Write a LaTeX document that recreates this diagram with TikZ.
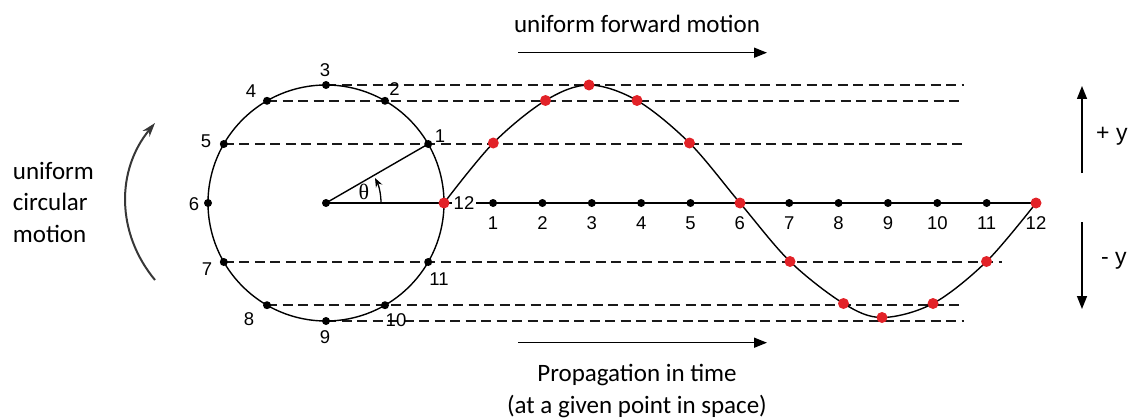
\documentclass[tikz,border=0pt]{standalone}
\usepackage{fontspec}
\setmainfont{Carlito}
\newfontfamily\numfont{Liberation Sans}
\newfontfamily\grfont{Liberation Serif}
\usetikzlibrary{arrows.meta}
\definecolor{dotred}{RGB}{226,34,40}
\definecolor{arrgray}{RGB}{55,55,55}
\begin{document}
\begin{tikzpicture}[x=1pt,y=-1pt,
  curve/.style={line width=1.4pt},
  guide/.style={line width=1.4pt, dash pattern=on 10pt off 5.5pt, black!90},
  bdot/.style={circle, fill=black, inner sep=0pt, minimum size=8pt},
  rdot/.style={circle, fill=dotred, inner sep=0pt, minimum size=11pt},
  num/.style={font=\numfont\fontsize{18.5}{18.5}\selectfont, inner sep=0pt},
  caption/.style={font=\fontsize{25}{31.5}\selectfont, inner sep=0pt},
  sign/.style={font=\numfont\fontsize{23}{23}\selectfont, inner sep=0pt, anchor=west},
  motion/.style={line width=1.5pt, -{Triangle[length=13pt,width=10pt]}},
]
\useasboundingbox (0,0) rectangle (1128,420);

% circle geometry
\coordinate (O) at (326,203);
\foreach \k in {1,...,12}
  \coordinate (c\k) at ({326+118*cos(30*\k)},{203-118*sin(30*\k)});
\foreach \k in {1,...,12}
  \coordinate (a\k) at ({443.7+49.36*\k},203);

% wave points
\coordinate (w1) at (493.3,143);
\coordinate (w2) at (545.5,100.5);
\coordinate (w3) at (589,85);
\coordinate (w4) at (637,100.5);
\coordinate (w5) at (689.5,143);
\coordinate (w6) at (740,203);
\coordinate (w7) at (790,261.5);
\coordinate (w8) at (843.5,303.5);
\coordinate (w9) at (882,317.5);
\coordinate (w10) at (933,303.5);
\coordinate (w11) at (986.5,261.5);
\coordinate (w12) at (1036,203);

% right ends of guide lines
\coordinate (R) at (964,0);
\coordinate (R1) at (962,0);
\coordinate (R7) at (1002,0);

% dashed guides
\draw[guide] (c3) -- (c3 -| R);
\draw[guide] (c4) -- (c4 -| R);
\draw[guide] (c5) -- (c5 -| R1);
\draw[guide] (c7) -- (c7 -| R7);
\draw[guide] (c8) -- (c8 -| R);
\draw[guide] (c9) -- (c9 -| R);

% circle, radii, axis
\draw[curve] (O) circle[radius=118];
\draw[curve] (O) -- (c1);
\draw[curve] (O) -- (c12);
\draw[curve] (c12) -- (a12);
\draw[curve] plot[smooth, tension=0.55] coordinates
  {(c12) (w1) (w2) (w3) (w4) (w5) (w6) (w7) (w8) (w9) (w10) (w11) (w12)};

% angle
\draw[line width=1.3pt, -{Stealth[length=9pt,width=7pt]}]
  ([xshift=55pt]O) arc[start angle=0, end angle=-27, radius=55];
\node[font=\grfont\fontsize{22}{22}\selectfont, inner sep=0pt] (theta) at (364,192) {θ};

% dots
\node[bdot] at (O) {};
\foreach \k in {1,...,11} \node[bdot] at (c\k) {};
\foreach \k in {1,2,3,4,5,7,8,9,10,11} \node[bdot] at (a\k) {};
\node[rdot] at (c12) {};
\foreach \k in {1,...,12} \node[rdot] at (w\k) {};

% circle labels
\node[num] (l1) at (440,136) {1};
\node[num] (l2) at (394.5,89) {2};
\node[num] (l3) at (325,70) {3};
\node[num] (l4) at (251,91) {4};
\node[num] (l5) at (206,141) {5};
\node[num] (l6) at (194,204) {6};
\node[num] (l7) at (207,269) {7};
\node[num] (l8) at (249,319) {8};
\node[num] (l9) at (325,337.5) {9};
\node[num] (l10) at (396,320) {10};
\node[num] (l11) at (439,279) {11};
\node[num, fill=white, inner sep=2pt] (l12) at (464,203) {12};

% axis labels
\foreach \k in {1,...,12}
  \node[num] at ([yshift=-20pt]a\k) {\k};

% left curved arrow
\coordinate (la) at (155,280);
\coordinate (lb) at (155,123);
\draw[line width=2pt, arrgray, -{Stealth[length=14pt,width=9pt]}]
  (la) .. controls (116,233) and (116,170) .. (lb);
\node[caption, align=left, anchor=west] (ucm) at (12.7,202)
  {uniform\\circular\\motion};

% forward motion arrows
\coordinate (t1) at (518,52.7);
\coordinate (t2) at (767,52.7);
\draw[motion] (t1) -- (t2);
\node[caption, anchor=base] (ufm) at (637,33) {uniform forward motion};
\coordinate (b1) at (518,342.7);
\coordinate (b2) at (767,342.7);
\draw[motion] (b1) -- (b2);
\node[caption, align=center] (prop) at (637,391)
  {Propagation in time\\(at a given point in space)};

% +y / -y arrows
\coordinate (u1) at (1082,173);
\coordinate (u2) at (1082,86);
\coordinate (d1) at (1082,222);
\coordinate (d2) at (1082,309);
\draw[motion] (u1) -- (u2);
\draw[motion] (d1) -- (d2);
\node[sign] (py) at (1096,136) {+ y};
\node[sign] (my) at (1101,261) {- y};
\end{tikzpicture}
\end{document}
